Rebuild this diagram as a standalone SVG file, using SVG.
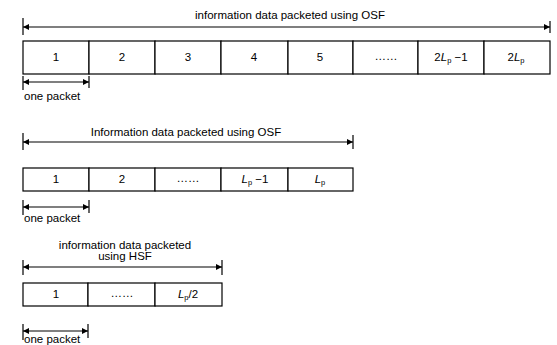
<svg xmlns="http://www.w3.org/2000/svg" width="557" height="345" viewBox="0 0 557 345">
<defs>
<marker id="ah" viewBox="0 0 10 10" refX="10" refY="5" markerWidth="8" markerHeight="6" markerUnits="userSpaceOnUse" orient="auto-start-reverse">
<path d="M0,0 L10,5 L0,10 z" fill="#000"/>
</marker>
<style>
.box{fill:#fff;stroke:#000;stroke-width:1.2}
.ln{stroke:#000;stroke-width:1.2;fill:none}
.arr{stroke:#000;stroke-width:1.2;fill:none;marker-start:url(#ah);marker-end:url(#ah)}
.t{font-family:"Liberation Sans",Arial,sans-serif;font-size:11.5px;fill:#000}
.l{font-family:"Liberation Sans",Arial,sans-serif;font-size:11.5px;fill:#000;text-anchor:middle}
.i{font-style:italic}
.s{font-size:7.5px}
</style>
</defs>
<rect width="557" height="345" fill="#fff"/>

<g id="connectors">
<line class="ln" x1="23" y1="18" x2="23" y2="35"/>
<line class="ln" x1="550" y1="21" x2="550" y2="33"/>
<line class="arr" x1="23" y1="27" x2="550" y2="27"/>
<line class="ln" x1="23" y1="76" x2="23" y2="90"/>
<line class="ln" x1="89" y1="76" x2="89" y2="88"/>
<line class="arr" x1="23" y1="82" x2="89" y2="82"/>
<line class="ln" x1="23" y1="133" x2="23" y2="150"/>
<line class="ln" x1="353" y1="135" x2="353" y2="149"/>
<line class="arr" x1="23" y1="142" x2="353" y2="142"/>
<line class="ln" x1="23" y1="200" x2="23" y2="215"/>
<line class="ln" x1="89" y1="200" x2="89" y2="213"/>
<line class="arr" x1="23" y1="207" x2="89" y2="207"/>
<line class="ln" x1="23" y1="260" x2="23" y2="275"/>
<line class="ln" x1="222" y1="260" x2="222" y2="275"/>
<line class="arr" x1="23" y1="267" x2="222" y2="267"/>
<line class="ln" x1="23" y1="324" x2="23" y2="340"/>
<line class="ln" x1="88" y1="324" x2="88" y2="338"/>
<line class="arr" x1="23" y1="331" x2="88" y2="331"/>
</g>

<g id="labels">
<text class="l" x="290" y="19">information data packeted using OSF</text>
<text class="t" x="24" y="100">one packet</text>
<text class="l" x="186" y="136">Information data packeted using OSF</text>
<text class="t" x="24" y="222">one packet</text>
<text class="l" x="125" y="249">information data packeted</text>
<text class="l" x="125" y="260">using HSF</text>
<text class="t" x="24" y="343">one packet</text>
</g>

<g id="row1">
<g id="r1b1"><rect class="box" x="23" y="41" width="66" height="33"/><text class="l" x="56" y="61">1</text></g>
<g id="r1b2"><rect class="box" x="89" y="41" width="66" height="33"/><text class="l" x="122" y="61">2</text></g>
<g id="r1b3"><rect class="box" x="155" y="41" width="66" height="33"/><text class="l" x="188" y="61">3</text></g>
<g id="r1b4"><rect class="box" x="221" y="41" width="67" height="33"/><text class="l" x="254" y="61">4</text></g>
<g id="r1b5"><rect class="box" x="288" y="41" width="65" height="33"/><text class="l" x="320" y="61">5</text></g>
<g id="r1b6"><rect class="box" x="353" y="41" width="65" height="33"/><text class="l" x="386" y="60">……</text></g>
<g id="r1b7"><rect class="box" x="418" y="41" width="66" height="33"/><text class="l" x="451" y="61">2<tspan class="i">L</tspan><tspan class="s" dy="2">p</tspan><tspan dy="-2"> −1</tspan></text></g>
<g id="r1b8"><rect class="box" x="484" y="41" width="66" height="33"/><text class="l" x="516" y="61">2<tspan class="i">L</tspan><tspan class="s" dy="2">p</tspan></text></g>
</g>

<g id="row2">
<g id="r2b1"><rect class="box" x="23" y="168" width="66" height="23"/><text class="l" x="56" y="183">1</text></g>
<g id="r2b2"><rect class="box" x="89" y="168" width="66" height="23"/><text class="l" x="122" y="183">2</text></g>
<g id="r2b3"><rect class="box" x="155" y="168" width="66" height="23"/><text class="l" x="188" y="182">……</text></g>
<g id="r2b4"><rect class="box" x="221" y="168" width="67" height="23"/><text class="l" x="255" y="183"><tspan class="i">L</tspan><tspan class="s" dy="2">p</tspan><tspan dy="-2"> −1</tspan></text></g>
<g id="r2b5"><rect class="box" x="288" y="168" width="65" height="23"/><text class="l" x="320" y="183"><tspan class="i">L</tspan><tspan class="s" dy="2">p</tspan></text></g>
</g>

<g id="row3">
<g id="r3b1"><rect class="box" x="23" y="283" width="65" height="23"/><text class="l" x="56" y="298">1</text></g>
<g id="r3b2"><rect class="box" x="88" y="283" width="67" height="23"/><text class="l" x="122" y="297">……</text></g>
<g id="r3b3"><rect class="box" x="155" y="283" width="67" height="23"/><text class="l" x="188" y="298"><tspan class="i">L</tspan><tspan class="s" dy="2">p</tspan><tspan dy="-2">/2</tspan></text></g>
</g>
</svg>
